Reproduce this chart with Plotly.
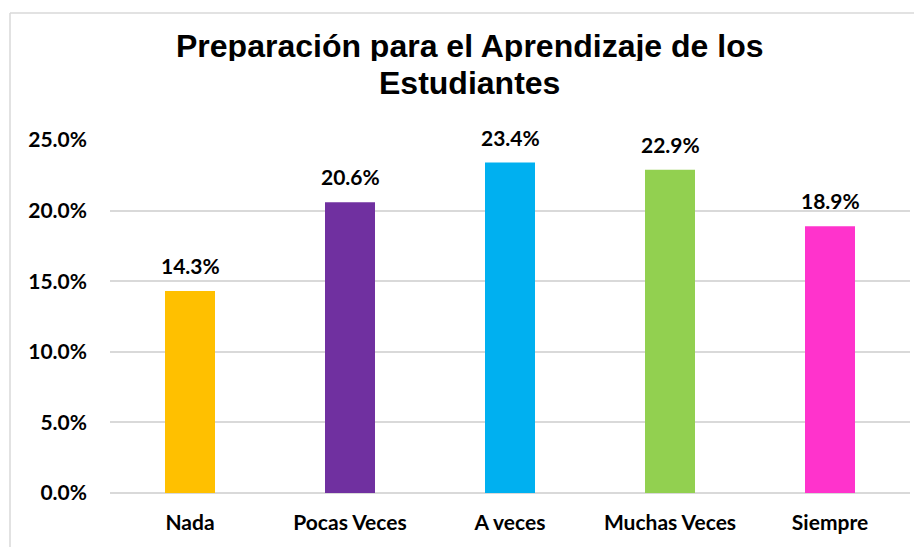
import plotly.graph_objects as go

categories = ["Nada", "Pocas Veces", "A veces", "Muchas Veces", "Siempre"]
values = [0.143, 0.206, 0.234, 0.229, 0.189]
colors = ["#FFC000", "#7030A0", "#00B0F0", "#92D050", "#FF33CC"]
y_ticks = [0, 0.05, 0.10, 0.15, 0.20, 0.25]
title_lines = ["Preparación para el Aprendizaje de los", "Estudiantes"]

fig = go.Figure()
fig.add_trace(go.Bar(
    x=categories, y=values, marker=dict(color=colors, line=dict(width=0)),
    width=0.3125, hoverinfo="x+y",
))

label_font = dict(family="Lato", size=21, color="#000000", weight="bold")

for c, v in zip(categories, values):
    fig.add_annotation(x=c, y=v, text=f"{v*100:.1f}%", showarrow=False,
                       yanchor="bottom", yshift=11, font=label_font)

title_font = dict(family="Liberation Sans", size=32, color="#000000", weight="bold")
fig.add_annotation(xref="paper", yref="paper", x=0.449, y=1.258, text=title_lines[0],
                   showarrow=False, xanchor="center", yanchor="middle", height=31,
                   yshift=3, font=title_font)
fig.add_annotation(xref="paper", yref="paper", x=0.449, y=1.170, text=title_lines[1],
                   showarrow=False, xanchor="center", yanchor="middle", height=31,
                   yshift=-3, font=title_font)

# chart-area border (top and left edges visible)
fig.add_shape(type="line", xref="paper", yref="paper", x0=-0.125, x1=1.2, y0=1.3598, y1=1.3598,
              line=dict(color="#D9D9D9", width=1.5))
fig.add_shape(type="line", xref="paper", yref="paper", x0=-0.125, x1=-0.125, y0=-0.5, y1=1.3598,
              line=dict(color="#D9D9D9", width=1.5))

fig.update_layout(
    width=914, height=539,
    margin=dict(l=102, r=12, t=132, b=54),
    paper_bgcolor="white", plot_bgcolor="white",
    showlegend=False,
    bargap=0.6875,
)
fig.update_xaxes(
    tickfont=label_font, showgrid=False, showline=False, ticks="",
    ticklabelstandoff=15,
)
fig.update_yaxes(
    range=[0, 0.25], tickvals=y_ticks, tickformat=".1%",
    tickfont=label_font, showgrid=True, gridcolor="#D9D9D9", gridwidth=1.5,
    zeroline=True, zerolinecolor="#D9D9D9", zerolinewidth=1.5,
    showline=False, ticks="", ticklabelstandoff=22,
)

fig.write_html("out.html")
